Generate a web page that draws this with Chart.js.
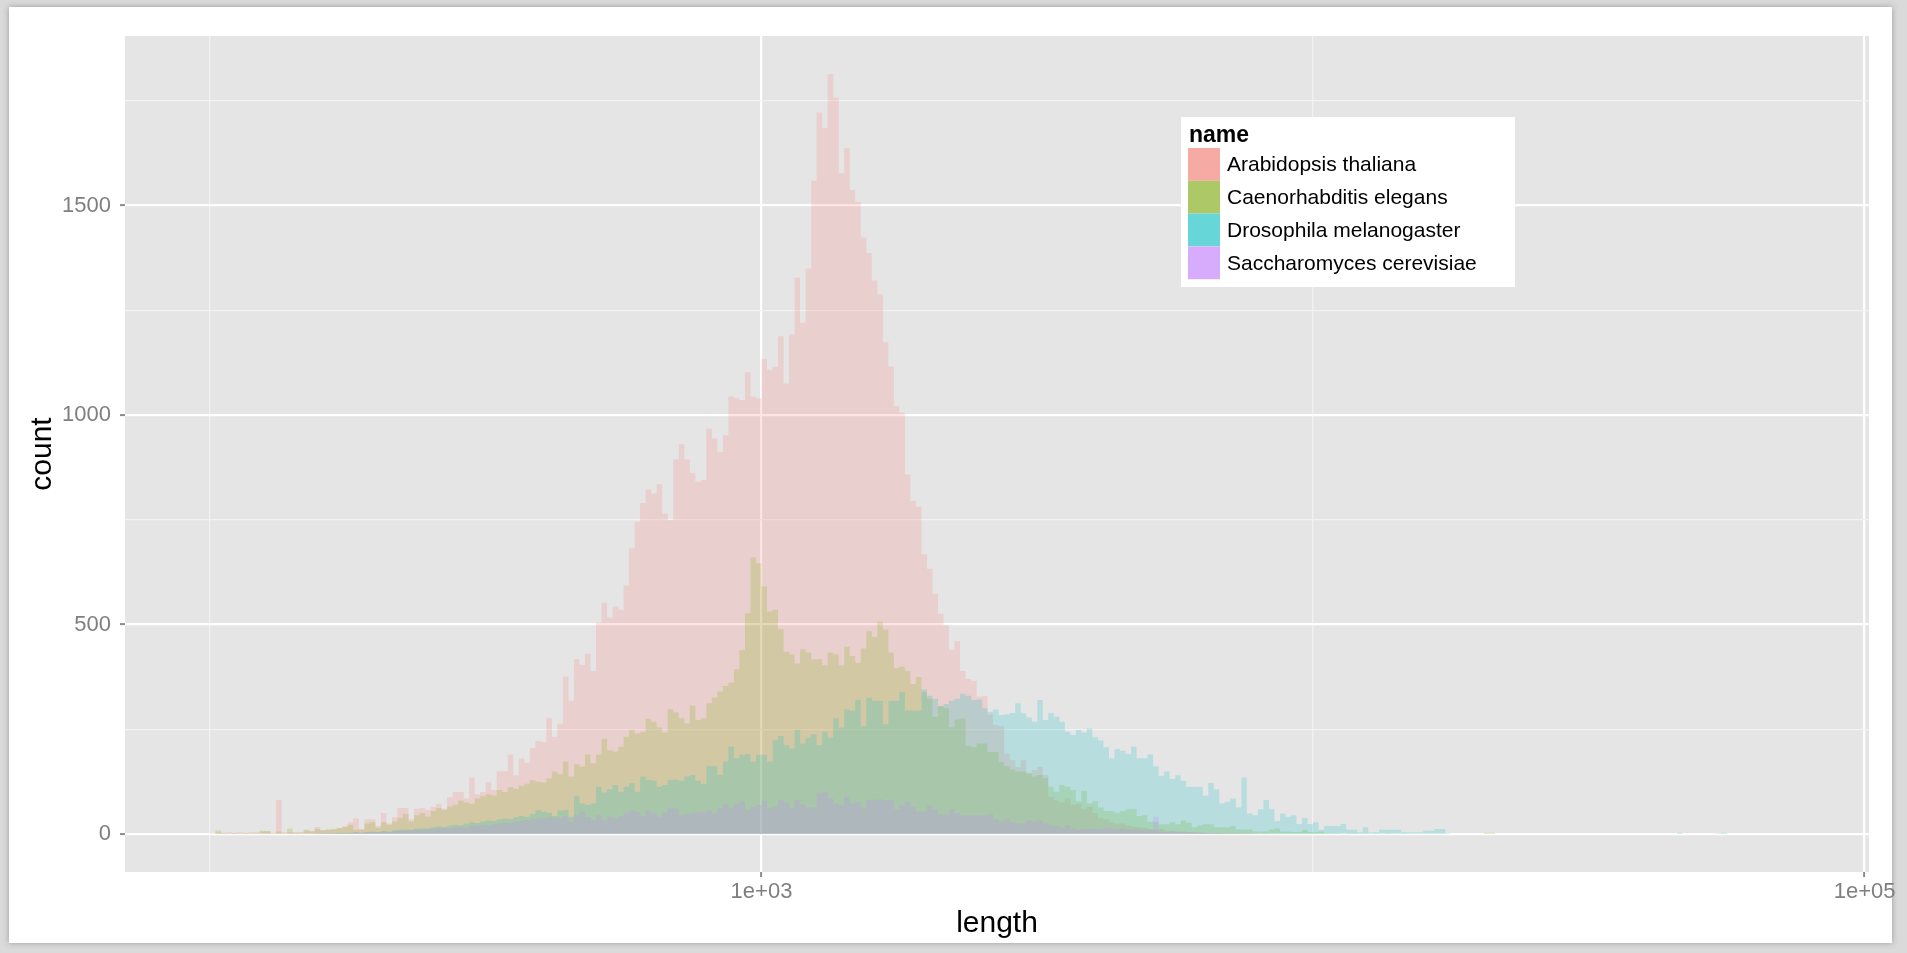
<!DOCTYPE html>
<html>
<head>
<meta charset="utf-8">
<title>Intron length by species</title>
<script src="https://cdn.jsdelivr.net/npm/chart.js@4.4.1/dist/chart.umd.min.js"></script>
<style>
  html, body { margin: 0; padding: 0; background: #ffffff; }
  canvas { display: block; }
</style>
</head>
<body>
<canvas id="hist" width="1907" height="953"></canvas>
<script>
// Histogram bins on a log10(length) axis: bin k covers [BIN_START + k*BIN_WIDTH, BIN_START + (k+1)*BIN_WIDTH)
const BIN_START = 2.0;
const BIN_WIDTH = 0.01;

const SPECIES = ['Arabidopsis thaliana', 'Caenorhabditis elegans', 'Drosophila melanogaster', 'Saccharomyces cerevisiae'];

// counts per bin
const ARABIDOPSIS = [
  3,2,4,3,4,3,4,3,4,4,
  6,6,3,81,4,5,4,5,8,8,
  17,9,11,11,15,19,28,37,12,35,
  35,19,50,25,40,62,62,35,60,62,
  58,65,72,60,88,100,100,85,135,95,
  100,125,105,150,150,190,140,180,170,205,
  222,220,276,232,263,376,318,417,404,430,
  389,505,552,517,543,535,593,682,745,790,
  822,813,835,765,749,894,930,894,862,841,
  845,968,944,912,952,1044,1040,1036,1102,1044,
  1040,1134,1108,1115,1188,1075,1192,1328,1220,1350,
  1559,1722,1686,1814,1758,1577,1637,1537,1509,1424,
  1387,1321,1288,1174,1116,1022,1006,858,795,781,
  668,633,573,526,498,439,460,389,370,366,
  328,329,285,260,258,192,176,160,176,145,
  153,160,141,89,80,75,85,70,72,60,
  65,50,38,35,28,25,25,20,18,16,
  15,12,10,12,8,8,6,6,5,4,
  4,3,2,3,2,2,1,2,1,1,
  1,0
];

const ELEGANS = [
  0,0,9,2,2,2,2,2,2,2,
  8,7,2,6,2,13,3,3,11,6,
  12,9,10,12,14,16,22,10,10,25,
  28,15,28,22,30,38,48,30,45,50,
  42,55,62,58,65,70,80,75,72,85,
  90,95,92,105,100,112,108,115,120,128,
  125,123,133,149,143,173,137,167,161,190,
  169,190,227,200,197,208,232,248,240,244,
  275,268,254,242,298,290,276,264,306,272,
  276,312,326,340,353,361,393,439,527,660,
  646,591,531,535,489,435,429,407,441,433,
  417,417,403,433,429,403,447,425,409,443,
  484,471,507,488,433,396,399,389,358,375,
  339,323,280,305,300,255,273,275,210,207,
  216,216,196,196,172,162,154,149,149,145,
  137,141,133,113,101,117,113,105,78,103,
  73,78,63,55,55,51,55,59,59,43,
  45,29,29,23,23,28,23,32,27,16,
  21,23,23,16,16,16,19,11,11,11,
  6,6,6,11,13,6,6,5,5,10,
  5,4,6,2,1,1,0,1,2,1,
  1,0,1,0,1,0,0,1,0,0,
  0,0,0,0,0,0,0,0,0,0,
  0,0,3,3,0,0,0,0,0,0,
  0,0,0,0,0,0,0,0,0,0,
  0,0,0,0,0,0,0,0,0,0,
  0,0,0,0,0,0,0,0,0,0,
  0,0,0,0,2,0
];

const DROSOPHILA = [
  0,0,0,0,0,0,0,0,0,0,
  0,0,0,0,0,0,0,0,0,0,
  1,1,2,2,2,3,3,4,3,5,
  6,5,7,6,9,10,11,10,13,14,
  13,16,18,17,20,22,21,25,28,26,
  30,32,31,35,37,36,40,43,41,48,
  57,53,51,43,56,57,41,91,73,69,
  73,113,99,107,117,101,113,121,101,137,
  129,127,113,117,129,130,127,137,141,127,
  119,162,162,141,173,209,181,189,191,173,
  189,189,173,224,234,212,204,248,216,230,
  238,212,244,230,276,254,297,294,320,258,
  325,318,318,262,318,318,339,295,295,295,
  345,330,323,305,310,318,323,335,330,320,
  321,300,292,297,284,286,289,312,288,278,
  268,320,272,289,280,268,244,236,248,242,
  252,231,223,207,181,203,199,191,208,181,
  181,190,162,139,149,131,140,127,113,113,
  113,91,122,106,73,77,85,63,135,49,
  45,59,81,59,31,49,41,45,24,38,
  24,28,10,19,19,19,24,10,10,4,
  16,4,4,10,10,10,10,4,4,4,
  4,8,8,12,12,2,0,0,0,0,
  0,0,0,0,0,0,0,0,0,0,
  0,0,0,0,0,0,0,0,0,0,
  0,0,0,0,0,0,0,0,0,0,
  0,0,0,0,0,0,0,3,0,0,
  0,0,0,0,0,3
];

const CEREVISIAE = [
  3,0,0,1,0,2,0,1,0,1,
  0,1,0,1,0,1,1,0,1,1,
  1,2,1,2,3,2,3,4,3,4,
  5,4,6,5,7,8,7,9,10,9,
  12,11,13,14,13,16,17,15,19,20,
  22,21,24,25,27,26,29,31,33,35,
  37,37,40,39,37,43,29,45,53,41,
  33,45,33,41,37,43,51,56,53,43,
  56,51,41,51,61,61,45,48,49,53,
  53,56,49,61,72,61,73,77,57,65,
  69,80,61,65,81,75,61,81,71,63,
  63,97,101,85,73,69,89,73,77,61,
  81,82,83,80,82,59,68,78,64,54,
  54,68,59,46,46,59,50,45,45,45,
  45,45,47,35,30,35,28,25,25,33,
  30,32,25,21,19,13,21,13,10,12,
  12,12,12,15,14,12,13,11,11,10,
  10,9,41,5,5,6,5,4,4,5,
  3,3,2,2,2,1,1,1,1,1,
  0,0,1,0,0,0
];

// axis breaks (x in log10 units)
const X_MAJOR = [3, 5];
const X_MAJOR_LABELS = ['1e+03', '1e+05'];
const X_MINOR = [2, 4];
const Y_MAJOR = [0, 500, 1000, 1500];
const Y_MAJOR_LABELS = ['0', '500', '1000', '1500'];
const Y_MINOR = [250, 750, 1250, 1750];

const FILL = [
  'rgba(248,118,109,0.2)',
  'rgba(124,174,0,0.2)',
  'rgba(0,191,196,0.2)',
  'rgba(199,124,255,0.2)'
];
const KEY = ['#f5aaa4', '#adc866', '#66d6d9', '#d8acfd'];

const FONT = "'Liberation Sans', Arial, Helvetica, sans-serif";

// step outline for one series: each bin holds its count until the next edge
function steps(counts) {
  const pts = counts.map((c, k) => ({ x: BIN_START + k * BIN_WIDTH, y: c }));
  pts.push({ x: BIN_START + counts.length * BIN_WIDTH, y: 0 });
  return pts;
}

const SERIES = [ARABIDOPSIS, ELEGANS, DROSOPHILA, CEREVISIAE];

const datasets = SERIES.map((counts, i) => ({
  label: SPECIES[i],
  data: steps(counts),
  stepped: 'after',
  fill: 'origin',
  backgroundColor: FILL[i],
  borderColor: 'rgba(0,0,0,0)',
  borderWidth: 0,
  pointRadius: 0,
  pointHoverRadius: 0,
  // first species is painted first, last species ends on top
  order: SERIES.length - i
}));

const panelAndFrame = {
  id: 'panelAndFrame',
  beforeDraw(chart) {
    const { ctx, chartArea: a, width, height } = chart;
    ctx.save();
    // soft grey frame around the white page
    ctx.fillStyle = '#dadada';
    ctx.fillRect(0, 0, width, height);
    ctx.shadowColor = 'rgba(150,150,150,0.9)';
    ctx.shadowBlur = 6;
    ctx.fillStyle = '#ffffff';
    ctx.fillRect(9, 7, width - 9 - 15, height - 7 - 10);
    ctx.shadowBlur = 0;
    ctx.shadowColor = 'rgba(0,0,0,0)';
    ctx.fillStyle = '#e5e5e5';
    ctx.fillRect(a.left, a.top, a.right - a.left, a.bottom - a.top);
    ctx.restore();
  }
};

const speciesKey = {
  id: 'speciesKey',
  afterDraw(chart) {
    const { ctx } = chart;
    const box = { x: 1181, y: 117, w: 334, h: 170 };
    ctx.save();
    ctx.fillStyle = '#ffffff';
    ctx.fillRect(box.x, box.y, box.w, box.h);
    ctx.fillStyle = '#000000';
    ctx.textBaseline = 'alphabetic';
    ctx.textAlign = 'left';
    ctx.font = 'bold 23px ' + FONT;
    ctx.fillText('name', 1189, 142);
    const rowH = 32.8;
    SPECIES.forEach((name, i) => {
      const y = 148 + i * rowH;
      ctx.fillStyle = KEY[i];
      ctx.fillRect(1188, y, 32, rowH);
      ctx.fillStyle = '#000000';
      ctx.font = '21px ' + FONT;
      ctx.textBaseline = 'middle';
      ctx.fillText(name, 1227, y + rowH / 2 + 1);
    });
    ctx.restore();
  }
};

new Chart(document.getElementById('hist'), {
  type: 'line',
  data: { datasets },
  plugins: [panelAndFrame, speciesKey],
  options: {
    responsive: false,
    animation: false,
    events: [],
    layout: { padding: { top: 36, right: 38, left: 0, bottom: 0 } },
    plugins: {
      legend: { display: false },
      tooltip: { enabled: false }
    },
    scales: {
      x: {
        type: 'linear',
        min: 1.846,
        max: 5.008,
        afterBuildTicks(scale) {
          scale.ticks = X_MINOR.concat(X_MAJOR).sort((a, b) => a - b).map(v => ({ value: v }));
        },
        afterFit(scale) { scale.height = 81; },
        border: { display: false },
        grid: {
          color: c => X_MAJOR.includes(c.tick.value) ? '#ffffff' : '#f2f2f2',
          lineWidth: c => X_MAJOR.includes(c.tick.value) ? 2.2 : 1.2,
          tickColor: c => X_MAJOR.includes(c.tick.value) ? '#8c8c8c' : 'rgba(0,0,0,0)',
          tickWidth: 2,
          tickLength: 5,
          drawTicks: true
        },
        ticks: {
          autoSkip: false,
          maxRotation: 0,
          padding: 2,
          color: '#7f7f7f',
          font: { family: FONT, size: 22 },
          callback: v => {
            const i = X_MAJOR.indexOf(v);
            return i >= 0 ? X_MAJOR_LABELS[i] : '';
          }
        },
        title: {
          display: true,
          text: 'length',
          color: '#000000',
          font: { family: FONT, size: 30 },
          padding: { top: 0, bottom: 11 }
        }
      },
      y: {
        type: 'linear',
        min: -90.7,
        max: 1904.7,
        afterBuildTicks(scale) {
          scale.ticks = Y_MAJOR.concat(Y_MINOR).sort((a, b) => a - b).map(v => ({ value: v }));
        },
        afterFit(scale) { scale.width = 125; },
        border: { display: false },
        grid: {
          color: c => Y_MAJOR.includes(c.tick.value) ? '#ffffff' : '#f2f2f2',
          lineWidth: c => Y_MAJOR.includes(c.tick.value) ? 2.2 : 1.2,
          tickColor: c => Y_MAJOR.includes(c.tick.value) ? '#8c8c8c' : 'rgba(0,0,0,0)',
          tickWidth: 2,
          tickLength: 5,
          drawTicks: true
        },
        ticks: {
          autoSkip: false,
          padding: 9,
          color: '#7f7f7f',
          font: { family: FONT, size: 22 },
          callback: v => {
            const i = Y_MAJOR.indexOf(v);
            return i >= 0 ? Y_MAJOR_LABELS[i] : '';
          }
        },
        title: {
          display: true,
          text: 'count',
          color: '#000000',
          font: { family: FONT, size: 30 },
          padding: { top: 25, bottom: 0 }
        }
      }
    }
  }
});
</script>
</body>
</html>
